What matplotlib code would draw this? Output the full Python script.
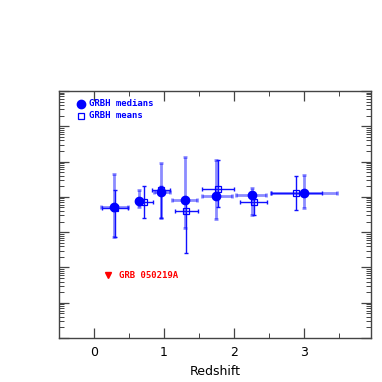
import numpy as np
import matplotlib
matplotlib.use('Agg')
import matplotlib.pyplot as plt
from matplotlib.ticker import MultipleLocator, LogLocator, NullFormatter

# GRBH medians (redshift, log value, errors)
med_z = [0.29, 0.645, 0.95, 1.295, 1.745, 2.25, 3.0]
med_zlo = [0.19, 0.05, 0.10, 0.18, 0.21, 0.22, 0.48]
med_zhi = [0.19, 0.05, 0.13, 0.18, 0.22, 0.21, 0.47]
med_logy = [3.71, 3.88, 4.13, 3.92, 4.02, 4.05, 4.10]
med_logy_hi = [4.65, 4.19, 4.97, 5.12, 5.04, 4.25, 4.62]
med_logy_lo = [2.86, 3.72, 3.40, 3.12, 3.37, 3.49, 3.69]

# GRBH means
mean_z = [0.30, 0.72, 0.955, 1.31, 1.765, 2.28, 2.88]
mean_zlo = [0.18, 0.08, 0.12, 0.16, 0.23, 0.20, 0.36]
mean_zhi = [0.18, 0.12, 0.13, 0.17, 0.23, 0.19, 0.37]
mean_logy = [3.68, 3.85, 4.19, 3.61, 4.22, 3.86, 4.12]
mean_logy_hi = [4.19, 4.31, 4.30, 3.92, 5.04, 3.95, 4.60]
mean_logy_lo = [2.87, 3.41, 3.40, 2.42, 3.70, 3.49, 3.64]

# GRB 050219A upper limit
grb_z = [0.205]
grb_logy = [1.785]
grb_label = 'GRB 050219A'

fig = plt.figure(figsize=(3.82, 3.82), dpi=100)
ax = fig.add_axes([0.154, 0.115, 0.817, 0.647])

my = 10 ** np.array(med_logy)
my_err = [my - 10 ** np.array(med_logy_lo), 10 ** np.array(med_logy_hi) - my]
ay = 10 ** np.array(mean_logy)
ay_err = [ay - 10 ** np.array(mean_logy_lo), 10 ** np.array(mean_logy_hi) - ay]

ax.errorbar(med_z, my, xerr=[med_zlo, med_zhi], yerr=my_err, fmt='none',
            ecolor='blue', alpha=0.45, elinewidth=2.0, capsize=1.5, capthick=2.0, zorder=2)
ax.errorbar(mean_z, ay, xerr=[mean_zlo, mean_zhi], yerr=ay_err, fmt='none',
            ecolor='#1010ff', elinewidth=1.0, capsize=1.5, capthick=1.0, zorder=3)
ax.plot(mean_z, ay, 's', ms=4.5, mfc='none', mec='blue', mew=0.9, zorder=4)
ax.plot(med_z, my, 'o', ms=6, color='blue', zorder=5)

ax.plot(grb_z, 10 ** np.array(grb_logy), 'v', ms=4.5, color='red', zorder=5)
ax.text(grb_z[0] + 0.15, 10 ** grb_logy[0], grb_label, color='red',
        fontsize=6.5, family='DejaVu Sans Mono', fontweight='bold', va='center')

# legend drawn by hand like the original
ax.plot([-0.18], [10 ** 6.64], 'o', ms=6, color='blue')
ax.text(-0.07, 10 ** 6.64, 'GRBH medians', color='blue', fontsize=6.5,
        family='DejaVu Sans Mono', fontweight='bold', va='center')
ax.plot([-0.18], [10 ** 6.30], 's', ms=4.5, mfc='none', mec='blue', mew=0.9)
ax.text(-0.07, 10 ** 6.30, 'GRBH means', color='blue', fontsize=6.5,
        family='DejaVu Sans Mono', fontweight='bold', va='center')

ax.set_yscale('log')
ax.set_xlim(-0.5, 3.95)
ax.set_ylim(1e0, 1e7)
ax.xaxis.set_major_locator(MultipleLocator(1))
ax.xaxis.set_minor_locator(MultipleLocator(0.5))
ax.yaxis.set_major_locator(LogLocator(base=10, numticks=20))
ax.yaxis.set_minor_locator(LogLocator(base=10, subs=np.arange(2, 10), numticks=20))
ax.yaxis.set_major_formatter(NullFormatter())
ax.yaxis.set_minor_formatter(NullFormatter())
ax.tick_params(which='both', direction='in', top=True, right=True, color='#444444')
ax.tick_params(which='major', length=7, width=0.9, labelsize=9, pad=6)
ax.tick_params(which='minor', length=3.5, width=0.7)
for s in ax.spines.values():
    s.set_color('#444444')
    s.set_linewidth(1.0)
ax.set_xlabel('Redshift', fontsize=9, labelpad=4)

fig.savefig('out.png', dpi=100)
